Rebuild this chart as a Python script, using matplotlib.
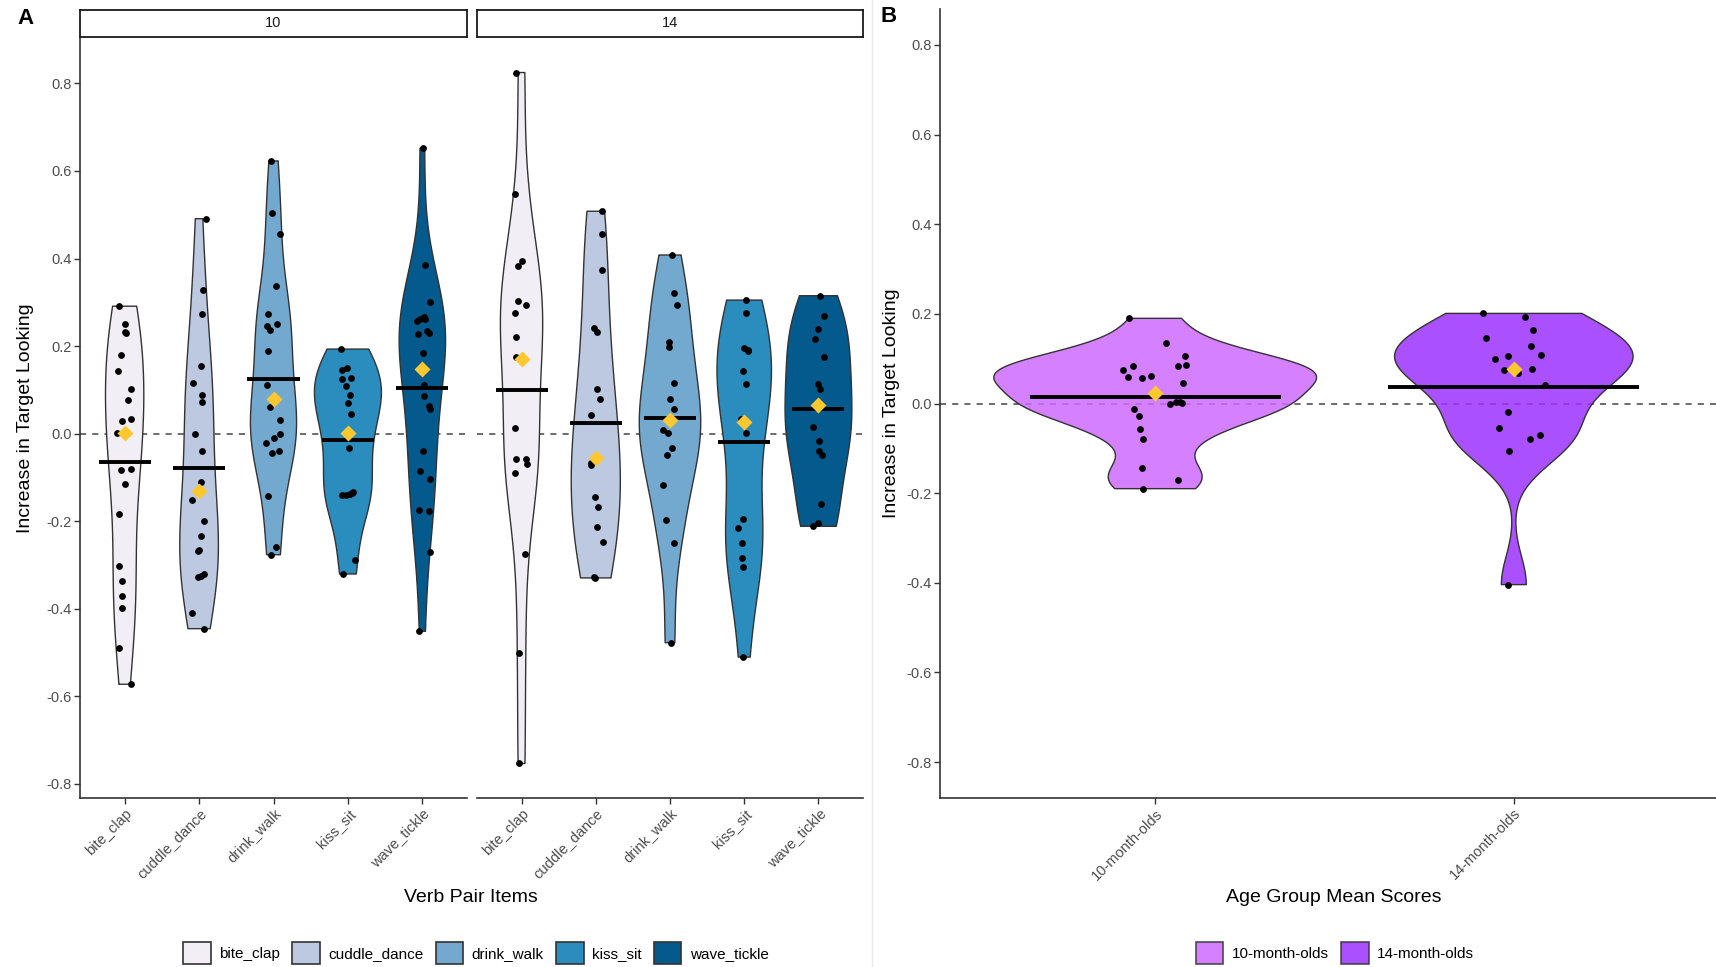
import numpy as np
import matplotlib.pyplot as plt
from matplotlib.patches import Patch
from matplotlib.lines import Line2D

# ---------- CONFIG ----------------
W, H = 1716, 967
FONT = "Liberation Sans"
C_AXIS = "#333333"; C_TICK = "#4D4D4D"; C_GOLD = "#FDC72F"
plt.rcParams.update({"font.family": FONT, "axes.unicode_minus": False})

ITEMS = ["bite_clap", "cuddle_dance", "drink_walk", "kiss_sit", "wave_tickle"]
ITEM_COLORS = ["#F1EEF6", "#BDC9E1", "#74A9CF", "#2B8CBE", "#045A8D"]
AGES = ["10-month-olds", "14-month-olds"]
AGE_COLORS = ["#CE6AFF", "#9B31FF"]
Y_TICKS = [-0.8, -0.6, -0.4, -0.2, 0.0, 0.2, 0.4, 0.6, 0.8]

# Scores per verb pair, 10-month-olds (values + horizontal jitter)
SCORES_10 = {
    "bite_clap": [0.291, 0.250, 0.232, 0.229, 0.179, 0.143, 0.101, 0.076, 0.034, 0.028, 0.002,
                  -0.081, -0.083, -0.116, -0.185, -0.302, -0.337, -0.372, -0.398, -0.490, -0.573],
    "cuddle_dance": [0.491, 0.329, 0.273, 0.154, 0.116, 0.088, 0.073, -0.001, -0.040, -0.111,
                     -0.152, -0.201, -0.234, -0.268, -0.266, -0.320, -0.325, -0.329, -0.411, -0.446],
    "drink_walk": [0.623, 0.505, 0.456, 0.337, 0.273, 0.251, 0.245, 0.236, 0.188, 0.112, 0.078,
                   0.060, 0.030, 0.000, -0.010, -0.022, -0.040, -0.044, -0.142, -0.260, -0.277],
    "kiss_sit": [0.193, 0.150, 0.146, 0.127, 0.124, 0.108, 0.089, 0.069, 0.045, 0.002, -0.005,
                 -0.033, -0.133, -0.135, -0.139, -0.140, -0.141, -0.289, -0.321],
    "wave_tickle": [0.652, 0.386, 0.300, 0.267, 0.262, 0.261, 0.258, 0.234, 0.230, 0.227, 0.183,
                    0.112, 0.086, 0.063, 0.056, -0.040, -0.085, -0.104, -0.175, -0.177, -0.270, -0.452],
}
JITTER_10 = {
    "bite_clap": [-0.07, 0, 0, 0.02, -0.05, -0.09, 0.08, 0.04, 0.09, -0.03, -0.10,
                  0.08, -0.05, 0.0, -0.08, -0.07, -0.04, -0.04, -0.04, -0.07, 0.08],
    "cuddle_dance": [0.09, 0.05, 0.04, 0.03, -0.08, 0.04, 0.04, -0.05, 0.04, 0.03,
                     -0.09, 0.07, 0.03, -0.02, 0.0, 0.07, 0.02, -0.02, -0.09, 0.06],
    "drink_walk": [-0.03, -0.02, 0.09, 0.03, -0.07, 0.05, -0.09, -0.05, -0.07, -0.09, 0.0,
                   -0.05, 0.09, 0.09, 0.0, -0.10, 0.08, -0.02, -0.07, 0.04, -0.03],
    "kiss_sit": [-0.09, -0.01, -0.08, 0.04, -0.08, -0.03, 0.03, 0.0, 0.04, 0.0, 0.0,
                 0.01, 0.07, 0.06, 0.03, -0.02, -0.08, 0.09, -0.06],
    "wave_tickle": [0.01, 0.04, 0.10, 0.02, 0.04, -0.03, -0.07, 0.06, 0.09, -0.06, 0.01,
                    0.02, 0.02, 0.09, 0.10, 0.01, -0.03, 0.10, -0.04, 0.09, 0.10, -0.05],
}

# Scores per verb pair, 14-month-olds
SCORES_14 = {
    "bite_clap": [0.825, 0.547, 0.395, 0.383, 0.302, 0.293, 0.275, 0.221, 0.174, 0.166, 0.013,
                  -0.058, -0.059, -0.070, -0.090, -0.276, -0.501, -0.754],
    "cuddle_dance": [0.508, 0.455, 0.373, 0.242, 0.231, 0.101, 0.078, 0.043, -0.055, -0.068,
                     -0.072, -0.145, -0.167, -0.213, -0.248, -0.328, -0.330],
    "drink_walk": [0.408, 0.321, 0.293, 0.210, 0.198, 0.116, 0.080, 0.056, 0.008, 0.002,
                   -0.033, -0.050, -0.117, -0.198, -0.251, -0.478],
    "kiss_sit": [0.305, 0.275, 0.196, 0.189, 0.143, 0.113, 0.034, 0.021, 0.002, -0.195,
                 -0.215, -0.250, -0.285, -0.305, -0.511, 0.190],
    "wave_tickle": [0.315, 0.268, 0.239, 0.215, 0.175, 0.114, 0.101, 0.065, 0.015, -0.017,
                    -0.039, -0.050, -0.161, -0.204, -0.212],
}
JITTER_14 = {
    "bite_clap": [-0.07, -0.09, 0.01, -0.05, -0.05, 0.06, -0.09, -0.07, -0.08, 0.0, -0.09,
                  0.06, -0.07, 0.08, -0.09, 0.04, -0.04, -0.03],
    "cuddle_dance": [0.08, 0.09, 0.09, -0.03, 0.02, 0.02, 0.06, -0.07, 0.0, -0.06,
                     -0.07, -0.01, 0.03, 0.02, 0.10, -0.02, -0.01],
    "drink_walk": [0.03, 0.06, 0.10, -0.02, -0.01, 0.05, 0.0, 0.06, -0.09, -0.03,
                   0.03, -0.04, -0.09, -0.05, 0.06, 0.01],
    "kiss_sit": [0.03, 0.03, 0.0, 0.05, -0.02, 0.03, -0.04, 0.0, 0.03, -0.01,
                 -0.09, -0.03, -0.03, -0.02, -0.02, 0.045],
    "wave_tickle": [0.02, 0.07, 0.0, -0.05, 0.07, -0.01, 0.02, 0.0, -0.07, 0.01,
                    0.01, 0.05, 0.04, -0.01, -0.08],
}

# Mean score per infant, by age group
AGE_SCORES = {
    "10-month-olds": [0.190, 0.136, 0.107, 0.085, 0.084, 0.083, 0.074, 0.061, 0.059, 0.056, 0.045,
                      0.004, 0.003, 0.002, 0.000, -0.012, -0.028, -0.056, -0.079, -0.143, -0.170, -0.190],
    "14-month-olds": [0.201, 0.193, 0.165, 0.146, 0.129, 0.108, 0.105, 0.099, 0.078, 0.074, 0.067,
                      0.041, -0.018, -0.055, -0.071, -0.080, -0.106, -0.404],
}
AGE_JITTER = {
    "10-month-olds": [-0.074, 0.030, 0.084, 0.086, 0.065, -0.062, -0.089, -0.013, -0.076, -0.036, 0.077,
                      0.058, 0.068, 0.074, 0.042, -0.060, -0.045, -0.043, -0.034, -0.038, 0.065, -0.033],
    "14-month-olds": [-0.087, 0.032, 0.054, -0.077, 0.048, 0.075, -0.017, -0.052, 0.052, -0.028, 0.013,
                      0.087, -0.015, -0.040, 0.072, 0.045, -0.013, -0.016],
}


# ---------- UTILITIES ------------
def fx(px): return px / W
def fy(py): return 1 - py / H


def ydensity(vals, n=512):
    """Gaussian KDE like ggplot's stat_ydensity (bw.nrd0, trimmed)."""
    y = np.asarray(vals, float)
    q75, q25 = np.percentile(y, [75, 25])
    bw = 0.9 * min(y.std(ddof=1), (q75 - q25) / 1.34) * len(y) ** -0.2
    grid = np.linspace(y.min(), y.max(), n)
    dens = np.exp(-0.5 * ((grid[:, None] - y[None, :]) / bw) ** 2).sum(1) / (len(y) * bw * np.sqrt(2 * np.pi))
    return grid, dens


def violins(ax, groups, scores, jitter, colors, alpha=1.0):
    curves = [ydensity(scores[g]) for g in groups]
    dmax = max(d.max() for _, d in curves)
    for i, (g, (grid, dens)) in enumerate(zip(groups, curves)):
        x = i + 1
        half = dens / dmax * 0.45
        ax.fill_betweenx(grid, x - half, x + half, facecolor=colors[i], alpha=alpha,
                         edgecolor="none", zorder=2)
        ax.fill_betweenx(grid, x - half, x + half, facecolor="none",
                         edgecolor=C_AXIS, lw=1.0, zorder=2.1)
        vals = np.asarray(scores[g])
        ax.hlines(vals.mean(), x - 0.35, x + 0.35, color="black", lw=2.8, zorder=3)
        ax.scatter(x + np.asarray(jitter[g]), vals, s=24, color="black", lw=0, zorder=4)
        ax.plot(x, np.median(vals), marker="D", ms=8.5, color=C_GOLD, mec="none", zorder=5)


def style_axis(ax, labels, ylim, show_y=True):
    ax.axhline(0, color="#444444", lw=1.1, dashes=(4, 4), zorder=1)
    ax.set_xlim(0.4, len(labels) + 0.6)
    ax.set_ylim(*ylim)
    ax.set_xticks(range(1, len(labels) + 1))
    ax.set_xticklabels(labels, rotation=45, ha="right", va="top", rotation_mode="anchor",
                       fontsize=10.5, color=C_TICK)
    ax.set_yticks(Y_TICKS)
    ax.set_yticklabels([f"{v:.1f}" for v in Y_TICKS], fontsize=10.5, color=C_TICK)
    for s in ("top", "right"):
        ax.spines[s].set_visible(False)
    for s in ("left", "bottom"):
        ax.spines[s].set_color(C_AXIS); ax.spines[s].set_linewidth(1.2)
    ax.tick_params(length=4, width=1, color=C_AXIS, pad=2)
    if not show_y:
        ax.spines["left"].set_visible(False)
        ax.tick_params(axis="y", left=False, labelleft=False)


# ---------- FIGURE ------------
fig = plt.figure(figsize=(W / 100, H / 100), dpi=100)

all_a = np.concatenate([SCORES_10[k] + SCORES_14[k] for k in ITEMS])
span = all_a.max() - all_a.min()
ylim_a = (all_a.min() - 0.05 * span, all_a.max() + 0.05 * span)

panels = [("10", SCORES_10, JITTER_10, 80, 387), ("14", SCORES_14, JITTER_14, 477, 386)]
for k, (title, sc, jt, left, width) in enumerate(panels):
    ax = fig.add_axes([fx(left), fy(798), fx(width), 760 / H])
    violins(ax, ITEMS, sc, jt, ITEM_COLORS)
    style_axis(ax, ITEMS, ylim_a, show_y=(k == 0))
    strip = fig.add_axes([fx(left), fy(37), fx(width), 27.5 / H])
    strip.set_xticks([]); strip.set_yticks([])
    for s in strip.spines.values():
        s.set_linewidth(1.3); s.set_color("#1A1A1A")
    strip.text(0.5, 0.5, title, ha="center", va="center", fontsize=10.5, color="#1A1A1A")

axB = fig.add_axes([fx(940), fy(798), fx(789), 789 / H])
violins(axB, AGES, AGE_SCORES, AGE_JITTER, AGE_COLORS, alpha=0.85)
style_axis(axB, AGES, (-0.88, 0.88))

# labels
fig.text(fx(26), fy(418), "Increase in Target Looking", rotation=90, ha="center", va="center", fontsize=14)
fig.text(fx(891), fy(403.5), "Increase in Target Looking", rotation=90, ha="center", va="center", fontsize=14)
fig.text(fx(471), fy(898), "Verb Pair Items", ha="center", va="center", fontsize=14)
fig.text(fx(1334), fy(898), "Age Group Mean Scores", ha="center", va="center", fontsize=14)
fig.text(fx(25.5), fy(18), "A", ha="center", va="center", fontsize=16, fontweight="bold")
fig.text(fx(889), fy(17), "B", ha="center", va="center", fontsize=16, fontweight="bold")

fig.add_artist(Line2D([fx(872)] * 2, [0, 1], color="#EBEBEB", lw=1))

# legends
leg_kw = dict(loc="center", ncol=5, frameon=False, fontsize=11, handlelength=1.8, handleheight=1.8,
              handletextpad=0.55, columnspacing=0.8, borderpad=0, borderaxespad=0)
fig.legend([Patch(facecolor=c, edgecolor=C_AXIS, lw=1.2) for c in ITEM_COLORS], ITEMS,
           bbox_to_anchor=(fx(476), fy(953)), **leg_kw)
fig.legend([Patch(facecolor=c, edgecolor=C_AXIS, lw=1.2, alpha=0.85) for c in AGE_COLORS], AGES,
           bbox_to_anchor=(fx(1335), fy(953)), **leg_kw)

fig.savefig("out.png", dpi=100)
